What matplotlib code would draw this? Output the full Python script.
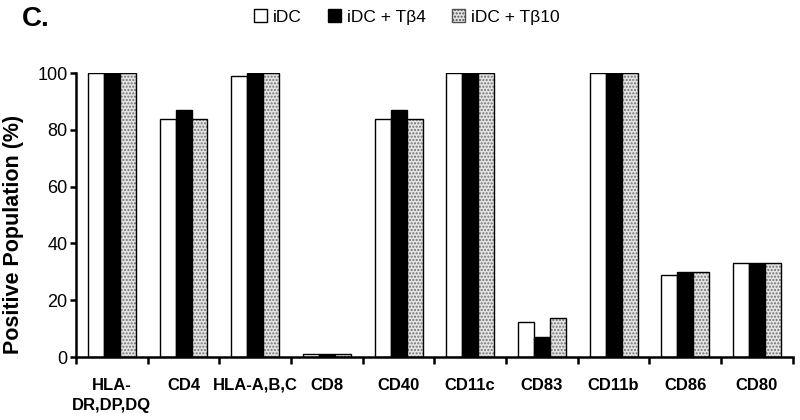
import numpy as np
import matplotlib
matplotlib.use("Agg")
import matplotlib.pyplot as plt
from matplotlib.patches import Patch

plt.rcParams['font.family'] = ['Liberation Sans', 'DejaVu Sans']

categories = ["HLA-\nDR,DP,DQ", "CD4", "HLA-A,B,C", "CD8", "CD40",
              "CD11c", "CD83", "CD11b", "CD86", "CD80"]
series_names = ["iDC", "iDC + T\u03b24", "iDC + T\u03b210"]
idc = [100, 84, 99, 1, 84, 100, 12.2, 100, 29, 33]
idc_tb4 = [100, 87, 100, 1, 87, 100, 7.1, 100, 30, 33]
idc_tb10 = [100, 84, 100, 1, 84, 100, 13.8, 100, 30, 33]
yticks = [0, 20, 40, 60, 80, 100]

fig = plt.figure(figsize=(8, 4.2), dpi=100)
ax = fig.add_axes([0.095, 0.15, 0.896, 0.676])

x = np.arange(len(categories))
w = 0.223

# plain and solid bars
ax.bar(x - w, idc, w, color='white', edgecolor='black', linewidth=1.0)
ax.bar(x, idc_tb4, w, color='black', edgecolor='black', linewidth=1.0)
# stippled bars: dotted fill first, black outline on top
ax.bar(x + w, idc_tb10, w, color='#e4e4e4', edgecolor='#707070',
       hatch='.....', linewidth=0)
ax.bar(x + w, idc_tb10, w, fill=False, edgecolor='black', linewidth=1.0)

ax.set_xlim(-0.5, len(categories) - 0.5)
ax.set_ylim(0, 100)
ax.set_yticks(yticks)
ax.set_yticklabels([str(v) for v in yticks], fontsize=13)
ax.set_xticks(np.arange(len(categories) + 1) - 0.5)
ax.set_xticklabels([])
ax.set_xticks(x, minor=True)
ax.set_xticklabels(categories, minor=True, fontsize=12, fontweight='bold',
                   linespacing=1.45)
ax.tick_params(axis='x', which='minor', length=0, pad=15)
ax.tick_params(axis='x', which='major', direction='out', length=5, width=1.8)
ax.tick_params(axis='y', direction='out', length=4, width=1.8, pad=2)

for s in ['top', 'right']:
    ax.spines[s].set_visible(False)
ax.spines['left'].set_linewidth(1.8)
ax.spines['bottom'].set_linewidth(1.8)

ax.set_ylabel("Positive Population (%)", fontsize=15.5, fontweight='bold')
ax.yaxis.set_label_coords(-0.072, 0.43)

handles = [Patch(facecolor='white', edgecolor='black', linewidth=1.0),
           Patch(facecolor='black', edgecolor='black', linewidth=1.0),
           Patch(facecolor='#e4e4e4', edgecolor='#505050', hatch='.....',
                 linewidth=1.0)]
fig.legend(handles, series_names, loc='center', bbox_to_anchor=(0.508, 0.96),
           ncol=3, frameon=False, fontsize=12.5, handlelength=0.8,
           handleheight=0.8, handletextpad=0.3, columnspacing=1.5)

fig.text(0.027, 0.955, "C.", fontsize=20, fontweight='bold', va='center')

fig.savefig("out.png", dpi=100)
